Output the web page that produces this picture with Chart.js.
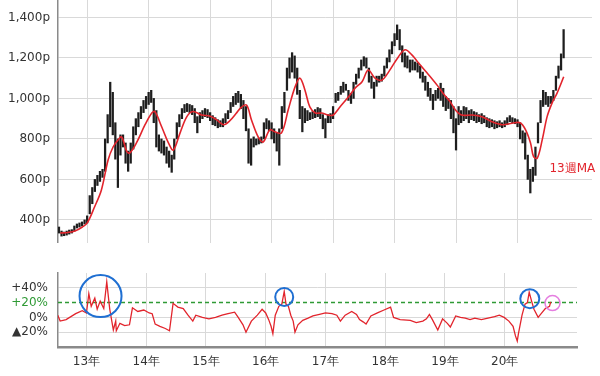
<!DOCTYPE html>
<html><head><meta charset="utf-8">
<script src="https://cdn.jsdelivr.net/npm/chart.js@4/dist/chart.umd.min.js"></script>
<style>
html,body{margin:0;padding:0;background:#fff;}
#wrap{position:relative;width:600px;height:376px;overflow:hidden;}
#top{position:absolute;left:0;top:0;}
#bot{position:absolute;left:0;top:250px;}
</style></head><body>
<div id="wrap">
<canvas id="top" width="600" height="243"></canvas>
<canvas id="bot" width="600" height="126"></canvas>
</div>
<script>
/* weekly price (half-month samples) with 13-week MA and deviation rate */
const t0=2012.54, step=1/24;
const priceLow=[
 335,320,322,325,330,335,345,360,365,370,380,
 385,430,480,540,570,590,610,640,780,860,820,700,560,720,760,680,640,680,750,820,860,900,930,950,
 970,980,880,760,740,730,720,680,660,635,700,800,860,900,930,935,930,920,880,830,880,900,910,905,
 890,870,865,855,860,860,880,900,930,960,970,980,950,900,840,680,670,760,770,775,780,800,850,840,
 800,780,740,670,850,930,1040,1100,1130,1100,1020,900,835,880,890,895,900,905,910,900,850,805,880,880,
 900,980,990,1020,1030,1040,990,975,1000,1070,1100,1140,1160,1150,1080,1050,1000,1060,1080,1085,1110,1150,1180,1220,
 1260,1290,1240,1180,1155,1150,1130,1140,1140,1130,1100,1080,1040,1010,990,945,990,1000,990,960,940,950,900,830,
 745,870,880,890,900,880,895,890,880,885,875,880,860,855,860,850,855,860,855,860,870,885,880,875,
 860,800,780,700,600,533,590,620,780,880,960,970,960,975,990,1040,1100,1140,1200];
const priceHigh=[
 365,345,340,345,350,352,370,380,385,390,400,
 420,520,560,600,620,640,650,800,920,1080,1030,880,800,820,820,780,740,780,860,900,930,960,990,1010,
 1030,1040,1000,940,820,800,790,760,740,720,800,880,920,950,970,975,970,965,950,910,930,940,950,945,
 930,915,905,895,890,900,925,940,980,1010,1025,1035,1020,990,960,850,800,810,800,805,810,880,900,890,
 880,850,830,850,960,1030,1150,1200,1226,1210,1150,1040,960,950,940,930,935,945,955,950,920,900,920,925,
 960,1025,1030,1060,1080,1070,1040,1025,1080,1120,1150,1190,1206,1200,1150,1110,1080,1110,1110,1120,1160,1200,1240,1280,
 1320,1363,1340,1260,1225,1210,1190,1190,1180,1175,1160,1130,1110,1080,1050,1020,1040,1050,1075,1050,1010,1000,990,960,
 900,960,940,960,955,940,945,935,930,920,925,915,905,900,895,890,885,890,880,890,905,915,905,900,
 895,880,840,830,720,650,660,760,880,990,1040,1030,1010,1010,1040,1110,1160,1220,1340];

const maT=[2012.56,2012.68,2012.80,2012.92,2013.00,2013.12,2013.23,2013.34,2013.42,2013.50,2013.56,2013.64,2013.69,2013.80,2013.94,
 2014.05,2014.10,2014.21,2014.32,2014.40,2014.51,2014.62,2014.72,2014.86,2015.00,2015.10,2015.22,2015.32,2015.42,2015.50,2015.59,
 2015.67,2015.78,2015.86,2015.97,2016.05,2016.16,2016.27,2016.38,2016.46,2016.54,2016.62,2016.71,2016.81,2016.92,2017.00,2017.11,
 2017.25,2017.36,2017.47,2017.57,2017.68,2017.79,2017.90,2018.06,2018.17,2018.28,2018.39,2018.50,2018.60,2018.70,2018.80,2018.90,
 2018.99,2019.09,2019.26,2019.42,2019.58,2019.75,2019.91,2020.04,2020.13,2020.21,2020.26,2020.32,2020.40,2020.48,2020.56,2020.64,2020.75];
const maV=[335,338,345,365,385,465,548,697,760,795,810,740,730,780,870,
 928,935,860,780,745,830,910,935,918,912,895,870,890,925,955,967,
 895,810,785,845,835,830,945,1057,1100,1042,958,928,928,918,918,958,
 1008,1052,1082,1140,1100,1090,1130,1205,1240,1215,1175,1135,1100,1062,1020,985,
 943,918,918,910,885,870,877,880,845,780,712,705,795,910,977,1025,1107];

const devT=[2012.52,2012.56,2012.66,2012.82,2012.93,2013.00,2013.04,2013.08,2013.14,2013.18,2013.23,2013.29,2013.34,2013.39,2013.45,
 2013.49,2013.50,2013.56,2013.64,2013.72,2013.77,2013.86,2013.96,2014.05,2014.10,2014.15,2014.23,2014.32,2014.39,2014.45,2014.53,
 2014.62,2014.70,2014.78,2014.83,2014.94,2015.05,2015.16,2015.27,2015.37,2015.48,2015.54,2015.62,2015.67,2015.76,2015.86,2015.94,
 2016.00,2016.05,2016.09,2016.12,2016.16,2016.22,2016.27,2016.31,2016.34,2016.38,2016.42,2016.46,2016.49,2016.54,2016.62,2016.71,
 2016.79,2016.90,2017.00,2017.11,2017.19,2017.25,2017.33,2017.44,2017.52,2017.57,2017.63,2017.68,2017.76,2017.87,2017.98,2018.09,
 2018.14,2018.25,2018.42,2018.52,2018.63,2018.69,2018.74,2018.79,2018.88,2018.96,2019.04,2019.09,2019.18,2019.26,2019.34,2019.42,
 2019.50,2019.61,2019.72,2019.83,2019.91,2019.99,2020.07,2020.14,2020.18,2020.21,2020.23,2020.29,2020.34,2020.38,2020.41,2020.45,
 2020.49,2020.56,2020.61,2020.68,2020.75,2020.77];
const devV=[3,-5,-3,5,9,6,32,15,26,11,22,12,48,11,-17,
 -5,-18,-8,-11,-10,13,8,10,6,5,-9,-12,-15,-18,19,14,
 12,3,-5,3,0,-2,0,3,5,7,0,-10,-20,-5,3,11,
 6,-3,-12,-22,3,15,18,35,18,15,3,-5,-20,-10,-4,-1,
 2,4,6,5,3,-5,3,8,4,-3,-6,-9,2,6,10,14,
 0,-3,-4,-7,-5,-2,4,-3,-17,-2,-8,-13,2,0,-1,-3,
 -1,-3,-1,1,3,0,-5,-12,-25,-32,-22,3,18,20,34,22,
 11,0,5,12,15,21];

const yearTicks=[2013,2014,2015,2016,2017,2018,2019,2020];
const priceTicks=[400,600,800,1000,1200,1400];
const pctTicks=[-20,0,20,40];
const pctLabels={'-20':'▲20%','0':'0%','20':'+20%','40':'+40%'};
const threshold=20;
const blueMarks=[{x:2013.236,y:28.8},{x:2016.31,y:27.6},{x:2020.42,y:25.3}];
const pinkMarks=[{x:2020.80,y:19.4}];
const maLabelAt={x:2020.89,y:650};

const RED='#e2242c', GRID='#d9d9d9', AXIS='#8a8a8a', TXT='#333';
const FONT={family:'"DejaVu Sans", Verdana, sans-serif',size:12};
const xMin=2012.524, xMax=2021.21;

function xScale(showLabels){
  return {type:'linear',min:xMin,max:xMax,offset:false,
    afterBuildTicks:s=>{s.ticks=yearTicks.map(v=>({value:v}));},
    ticks:{display:showLabels,padding:8,color:TXT,font:FONT,maxRotation:0,
      callback:v=>String(v).slice(2)+'年'},
    grid:{color:GRID,drawTicks:false,offset:false},
    border:showLabels?{color:AXIS,width:2.5}:{display:false},
    afterFit:s=>{s.height=showLabels?29:0;s.paddingLeft=0;s.paddingRight=0;}};
}

const maLabel={id:'maLabel',afterDatasetsDraw(c){
  const {ctx,scales:{x,y}}=c;ctx.save();ctx.fillStyle=RED;
  ctx.font='12px "DejaVu Sans"';ctx.textAlign='center';ctx.textBaseline='middle';
  ctx.fillText('13週MA',x.getPixelForValue(maLabelAt.x),y.getPixelForValue(maLabelAt.y));ctx.restore();}};

new Chart(document.getElementById('top'),{
  type:'bar',
  data:{datasets:[
    {type:'line',data:maT.map((t,i)=>({x:t,y:maV[i]})),borderColor:RED,borderWidth:1.6,pointRadius:0,tension:0.35,order:0},
    {type:'bar',data:priceLow.map((lo,i)=>({x:t0+i*step,y:[lo,priceHigh[i]]})),backgroundColor:'#1e1e1e',barThickness:1.6,order:1}
  ]},
  options:{responsive:false,animation:false,
    layout:{padding:{left:0,right:8,top:0,bottom:0}},
    plugins:{legend:{display:false},tooltip:{enabled:false}},
    scales:{
      x:xScale(false),
      y:{min:286,max:1486,
        afterBuildTicks:s=>{s.ticks=priceTicks.map(v=>({value:v}));},
        ticks:{padding:8,color:TXT,font:FONT,callback:v=>v.toLocaleString('en-US')+'p'},
        grid:{color:GRID,drawTicks:false},border:{color:AXIS,width:1.5},
        afterFit:s=>{s.width=58;s.paddingTop=0;s.paddingBottom=0;}}
    }},
  plugins:[maLabel]
});

new Chart(document.getElementById('bot'),{
  type:'line',
  data:{datasets:[
    {data:blueMarks,showLine:false,pointRadius:[21,9,9.5],pointBackgroundColor:'rgba(0,0,0,0)',pointBorderColor:'#1f6fd2',pointBorderWidth:2,order:0},
    {data:pinkMarks,showLine:false,pointRadius:[7.5],pointBackgroundColor:'rgba(0,0,0,0)',pointBorderColor:'#e57ee0',pointBorderWidth:1.5,order:0},
    {data:devT.map((t,i)=>({x:t,y:devV[i]})),borderColor:RED,borderWidth:1.3,pointRadius:0,tension:0,order:1},
    {data:[{x:xMin,y:threshold},{x:xMax,y:threshold}],borderColor:'#2f9a35',borderWidth:1.5,borderDash:[4,3],pointRadius:0,order:2}
  ]},
  options:{responsive:false,animation:false,
    layout:{padding:{left:0,right:8,top:11,bottom:0}},
    plugins:{legend:{display:false},tooltip:{enabled:false}},
    scales:{
      x:xScale(true),
      y:{min:-40,max:60,
        afterBuildTicks:s=>{s.ticks=pctTicks.map(v=>({value:v}));},
        ticks:{padding:10,font:FONT,color:c=>c.tick&&c.tick.value===threshold?'#2f9a35':TXT,
          callback:v=>pctLabels[String(v)]},
        grid:{color:c=>c.tick&&c.tick.value===threshold?'rgba(0,0,0,0)':GRID,drawTicks:false},
        border:{color:AXIS,width:1.5},
        afterFit:s=>{s.width=58;s.paddingTop=0;s.paddingBottom=0;}}
    }}
});
</script>
</body></html>
